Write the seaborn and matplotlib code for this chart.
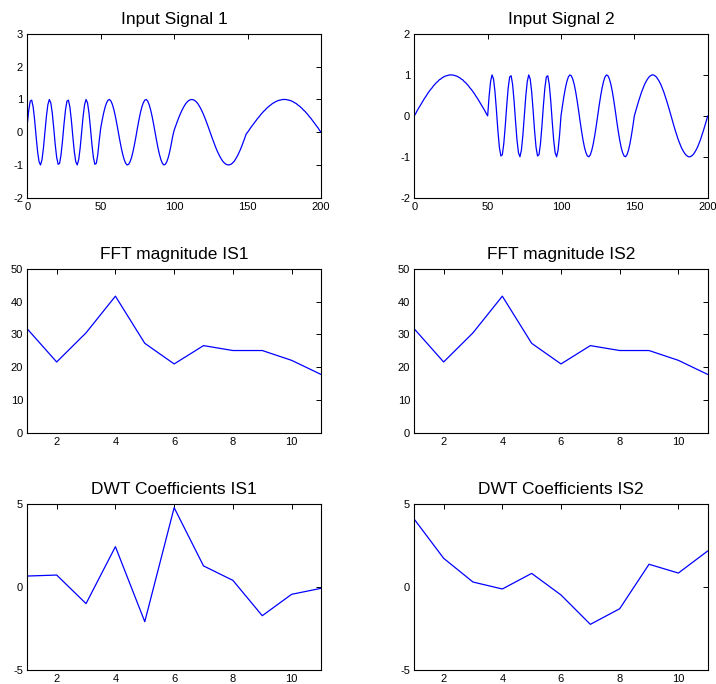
import matplotlib
matplotlib.use("Agg")
import matplotlib.pyplot as plt
import seaborn as sns

# ---------------- data ----------------
signal_x = list(range(0, 201))

signal1 = [
    # 0..49
    .25, .68, .95, .98, .77, .37, -.13, -.59, -.90, -1.00, -.84, -.48, 0, .48, .84, 1.00, .90, .59, .13, -.37, -.77, -.98, -.95, -.68, -.25,
    .25, .68, .95, .98, .77, .37, -.13, -.59, -.90, -1.00, -.84, -.48, 0, .48, .84, 1.00, .90, .59, .13, -.37, -.77, -.98, -.95, -.68, -.25,
    # 50..99
    .13, .37, .59, .77, .90, .98, 1.00, .95, .84, .68, .48, .25, 0, -.25, -.48, -.68, -.84, -.95, -1.00, -.98, -.90, -.77, -.59, -.37, -.13,
    .13, .37, .59, .77, .90, .98, 1.00, .95, .84, .68, .48, .25, 0, -.25, -.48, -.68, -.84, -.95, -1.00, -.98, -.90, -.77, -.59, -.37, -.13,
    # 100..149
    .06, .19, .31, .43, .54, .64, .73, .81, .88, .93, .97, .99, 1.00, .99, .97, .93, .88, .81, .73, .64, .54, .43, .31, .19, .06,
    -.06, -.19, -.31, -.43, -.54, -.64, -.73, -.81, -.88, -.93, -.97, -.99, -1.00, -.99, -.97, -.93, -.88, -.81, -.73, -.64, -.54, -.43, -.31, -.19, -.06,
    # 150..200
    0, .06, .13, .19, .25, .31, .37, .43, .48, .54, .59, .64, .68, .73, .77, .81, .84, .88, .90, .93, .95, .97, .98, .99, 1.00, 1.00,
    1.00, .99, .98, .97, .95, .93, .90, .88, .84, .81, .77, .73, .68, .64, .59, .54, .48, .43, .37, .31, .25, .19, .13, .06, 0,
]

signal2 = [
    # 0..49
    0, .06, .13, .19, .25, .31, .37, .43, .48, .54, .59, .64, .68, .73, .77, .81, .84, .88, .90, .93, .95, .97, .98, .99, 1.00, 1.00,
    1.00, .99, .98, .97, .95, .93, .90, .88, .84, .81, .77, .73, .68, .64, .59, .54, .48, .43, .37, .31, .25, .19, .13, .06,
    # 50..99
    0, .48, .84, 1.00, .90, .59, .13, -.37, -.77, -.98, -.95, -.68, -.25, .25, .68, .95, .98, .77, .37, -.13, -.59, -.90, -1.00, -.84, -.48,
    0, .48, .84, 1.00, .90, .59, .13, -.37, -.77, -.98, -.95, -.68, -.25, .25, .68, .95, .98, .77, .37, -.13, -.59, -.90, -1.00, -.84, -.48,
    # 100..149
    0, .25, .48, .68, .84, .95, 1.00, .98, .90, .77, .59, .37, .13, -.13, -.37, -.59, -.77, -.90, -.98, -1.00, -.95, -.84, -.68, -.48, -.25,
    0, .25, .48, .68, .84, .95, 1.00, .98, .90, .77, .59, .37, .13, -.13, -.37, -.59, -.77, -.90, -.98, -1.00, -.95, -.84, -.68, -.48, -.25,
    # 150..200
    0, .13, .25, .37, .48, .59, .68, .77, .84, .90, .95, .98, 1.00,
    1.00, .98, .95, .90, .84, .77, .68, .59, .48, .37, .25, .13, 0,
    -.13, -.25, -.37, -.48, -.59, -.68, -.77, -.84, -.90, -.95, -.98, -1.00,
    -1.00, -.98, -.95, -.90, -.84, -.77, -.68, -.59, -.48, -.37, -.25, -.13, 0,
]

coef_x = [1, 2, 3, 4, 5, 6, 7, 8, 9, 10, 11]
fft_is1 = [31.7, 21.6, 30.5, 41.7, 27.3, 21.0, 26.6, 25.1, 25.1, 22.1, 17.8]
fft_is2 = [31.7, 21.6, 30.5, 41.7, 27.3, 21.0, 26.6, 25.1, 25.1, 22.1, 17.8]
dwt_is1 = [0.66, 0.72, -1.00, 2.43, -2.09, 4.78, 1.27, 0.40, -1.73, -0.44, -0.08]
dwt_is2 = [4.08, 1.73, 0.30, -0.12, 0.82, -0.48, -2.25, -1.31, 1.37, 0.84, 2.17]

titles = ["Input Signal 1", "Input Signal 2",
          "FFT magnitude IS1", "FFT magnitude IS2",
          "DWT Coefficients IS1", "DWT Coefficients IS2"]

signal_xticks = [0, 50, 100, 150, 200]
sig1_yticks = [-2, -1, 0, 1, 2, 3]
sig2_yticks = [-2, -1, 0, 1, 2]
coef_xticks = [2, 4, 6, 8, 10]
fft_yticks = [0, 10, 20, 30, 40, 50]
dwt_yticks = [-5, 0, 5]

# ---------------- style ----------------
sns.set_theme(style="white")
plt.rcParams["font.family"] = ["Liberation Sans", "DejaVu Sans"]

fig = plt.figure(figsize=(7.16, 6.84), dpi=100)
fig.patch.set_facecolor("white")

W, H = 716.0, 684.0
cols = [(27.3, 321.0), (414.3, 707.7)]
rows = [(34.0, 197.7), (269.0, 432.7), (504.0, 670.0)]

panels = [
    (signal_x, signal1, (0, 200), (-2, 3), signal_xticks, sig1_yticks),
    (signal_x, signal2, (0, 200), (-2, 2), signal_xticks, sig2_yticks),
    (coef_x, fft_is1, (1, 11), (0, 50), coef_xticks, fft_yticks),
    (coef_x, fft_is2, (1, 11), (0, 50), coef_xticks, fft_yticks),
    (coef_x, dwt_is1, (1, 11), (-5, 5), coef_xticks, dwt_yticks),
    (coef_x, dwt_is2, (1, 11), (-5, 5), coef_xticks, dwt_yticks),
]

for i, (xs, ys, xl, yl, xt, yt) in enumerate(panels):
    r, c = divmod(i, 2)
    x0, x1 = cols[c]
    y0, y1 = rows[r]
    ax = fig.add_axes([x0 / W, 1 - y1 / H, (x1 - x0) / W, (y1 - y0) / H])
    sns.lineplot(x=xs, y=ys, ax=ax, color="#0000ff", linewidth=0.9,
                 estimator=None, sort=False)
    ax.set_xlim(*xl)
    ax.set_ylim(*yl)
    ax.set_xticks(xt)
    ax.set_yticks(yt)
    ax.set_xticklabels([str(v) for v in xt])
    ax.set_yticklabels([str(v) for v in yt])
    ax.set_xlabel("")
    ax.set_ylabel("")
    ax.set_title(titles[i], fontsize=12.5, pad=7.5, color="black")
    ax.tick_params(direction="in", length=3.5, width=0.7, top=True, right=True,
                   labelsize=8, colors="black", pad=3)
    for sp in ax.spines.values():
        sp.set_visible(True)
        sp.set_color("black")
        sp.set_linewidth(0.8)
    ax.set_facecolor("white")
    ax.grid(False)

fig.savefig("out.png", dpi=100, facecolor="white")
